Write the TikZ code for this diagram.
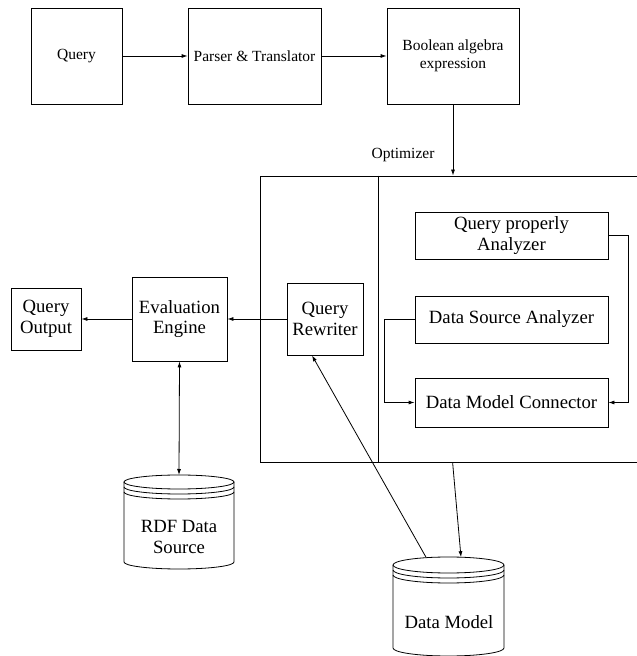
\documentclass[tikz,border=0pt]{standalone}
\usepackage{fontspec}
\setmainfont{Liberation Serif}
\usetikzlibrary{arrows.meta,calc}
\newcommand\smallfnt{\fontsize{15.5}{18}\selectfont}
\newcommand\bigfnt{\fontsize{18.7}{20.5}\selectfont}
\begin{document}
\begin{tikzpicture}[x=1pt,y=1pt, line width=0.8pt,
  topbox/.style={draw, rectangle, inner sep=0pt, align=center, font=\smallfnt, minimum height=96},
  box/.style={draw, rectangle, inner sep=0pt, align=center, font=\bigfnt},
  plain/.style={inner sep=0pt, align=center, font=\bigfnt},
  arr/.style={-{Latex[length=6pt,width=4pt]}},
  darr/.style={{Latex[length=6pt,width=4pt]}-{Latex[length=6pt,width=4pt]}}]
\useasboundingbox (0,0) rectangle (637,656);
\clip (0,0) rectangle (637,656);
% top row
\node[topbox, minimum width=91] (q) at (76.5,600) {Query};
\node[topbox, minimum width=133] (pt) at (254.5,600) {Parser \& Translator};
\node[topbox, minimum width=132] (bae) at (453,600) {Boolean algebra\\expression};
\draw[arr] (q.east) -- (pt.west);
\draw[arr] (pt.east) -- (bae.west);
% optimizer
\node[draw, rectangle, inner sep=0pt, minimum width=400, minimum height=286] (opt) at (460,337) {};
\node[inner sep=0pt, font=\smallfnt] (optlbl) at (403,501) {Optimizer};
\draw ($(opt.north west)+(119,0)$) -- ($(opt.south west)+(119,0)$);
\draw[arr] (bae.south) -- (bae.south |- opt.north);
% inner boxes
\node[box, minimum width=193, minimum height=47] (qpa) at (511.5,420.5) {Query properly\\Analyzer};
\node[box, minimum width=193, minimum height=47] (dsa) at (511.5,336.5) {Data Source Analyzer};
\node[box, minimum width=193, minimum height=49] (dmc) at (511.5,253.5) {Data Model Connector};
\draw[arr] (dsa.west) -- ++(-30,0) |- (dmc.west);
\draw[arr] (qpa.east) -- ++(20,0) |- (dmc.east);
% left side
\node[box, minimum width=76, minimum height=72] (rw) at (325,337) {Query\\Rewriter};
\node[box, minimum width=95, minimum height=84] (ee) at (179.5,337) {Evaluation\\Engine};
\node[box, minimum width=70, minimum height=62] (qo) at (46,337) {Query\\Output};
\draw[arr] (rw.west) -- (ee.east);
\draw[arr] (ee.west) -- (qo.east);
% RDF cylinder
\draw (179,174) ellipse [x radius=55, y radius=7];
\draw (124,169) arc [start angle=180, end angle=360, x radius=55, y radius=7];
\draw (124,164) arc [start angle=180, end angle=360, x radius=55, y radius=7];
\draw (124,174) -- (124,94) arc [start angle=180, end angle=360, x radius=55, y radius=7] -- (234,174);
\node[plain] (rdf) at (179,119) {RDF Data\\Source};
\coordinate (rdftop) at (179,181);
\draw[darr] (ee.south) -- (rdftop);
% Data model cylinder
\draw (448.5,91) ellipse [x radius=55.5, y radius=8];
\draw (393,86) arc [start angle=180, end angle=360, x radius=55.5, y radius=8];
\draw (393,81) arc [start angle=180, end angle=360, x radius=55.5, y radius=8];
\draw (393,91) -- (393,8) arc [start angle=180, end angle=360, x radius=55.5, y radius=8] -- (504,91);
\node[plain] (dm) at (449,34) {Data Model};
\coordinate (dmtopR) at (461,98.8);
\coordinate (dmtopL) at (426,98.8);
\coordinate (optout) at ($(opt.south west)+(193,0)$);
\draw[arr] (optout) -- (dmtopR);
\draw[arr] (dmtopL) -- ($(rw.south)+(-13,0)$);
\end{tikzpicture}
\end{document}
